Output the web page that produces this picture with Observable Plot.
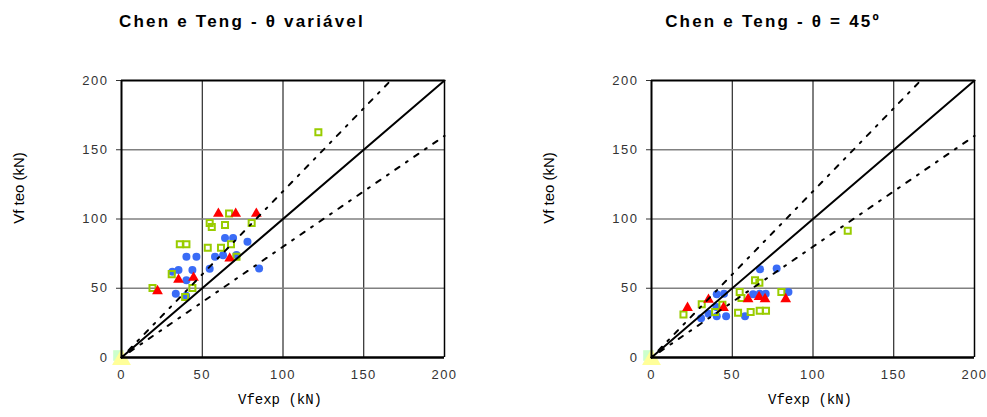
<!DOCTYPE html>
<html>
<head>
<meta charset="utf-8">
<script src="https://cdn.jsdelivr.net/npm/d3@7"></script>
<script src="https://cdn.jsdelivr.net/npm/@observablehq/plot@0.6"></script>
<style>
  html, body { margin: 0; padding: 0; background: #fff; }
  #root { position: relative; width: 987px; height: 417px; overflow: hidden; font-family: "Liberation Sans", Arial, sans-serif; }
  .panel { position: absolute; top: 0; }
  .panel svg text { letter-spacing: 1.5px; }
  .title { position: absolute; top: 12px; font-weight: bold; font-size: 17px; letter-spacing: 2.2px; white-space: nowrap; transform: translateX(-50%); color: #000; }
  .ylab { position: absolute; font-size: 15px; white-space: nowrap; transform: translate(-50%, -50%) rotate(-90deg); color: #000; }
  .xlab { position: absolute; top: 392px; font-family: "Liberation Mono", "Courier New", monospace; font-size: 14px; white-space: nowrap; transform: translateX(-50%); color: #000; }
</style>
</head>
<body>
<div id="root"></div>
<script>
// ---- data ----
const titles = ["Chen e Teng - θ variável", "Chen e Teng - θ = 45º"];
const xLabel = "Vfexp (kN)";
const yLabel = "Vf teo (kN)";
const tickValues = [0, 50, 100, 150, 200];

// left panel (θ variável)
const blue1X = [31.5, 35.3, 43.9, 40.2, 46.4, 40.2, 33.6, 40.0, 54.6, 57.9, 62.9, 64.1, 69.1, 71.2, 78.0, 85.2];
const blue1Y = [61.9, 63.1, 63.1, 72.8, 72.8, 55.8, 46.1, 44.5, 64.0, 72.8, 73.8, 86.2, 86.2, 74.0, 83.5, 64.3];
const red1X = [22.3, 35.3, 44.6, 60.0, 70.7, 83.5, 67.0];
const red1Y = [48.0, 56.2, 57.6, 103.9, 103.9, 103.9, 71.5];
const green1X = [19.2, 31.1, 36.1, 40.2, 43.9, 39.4, 54.6, 55.9, 64.1, 53.4, 61.6, 66.6, 67.8, 71.2, 80.6, 121.9];
const green1Y = [50.2, 60.2, 81.8, 81.8, 50.2, 43.7, 97.1, 94.2, 95.6, 79.3, 79.3, 103.9, 81.8, 72.8, 97.1, 162.6];

// right panel (θ = 45º)
const blue2X = [67.2, 77.5, 40.4, 44.9, 62.9, 67.0, 70.7, 84.8, 30.7, 40.4, 46.2, 57.9, 35.3, 40.2];
const blue2Y = [63.8, 64.3, 45.6, 46.1, 45.6, 46.1, 46.1, 47.3, 28.4, 29.8, 29.8, 29.8, 31.6, 36.4];
const red2X = [22.3, 35.3, 44.6, 59.8, 66.6, 70.3, 83.1];
const red2Y = [35.9, 41.8, 35.9, 42.2, 43.7, 42.2, 42.2];
const green2X = [19.8, 31.1, 39.4, 43.9, 54.6, 55.7, 64.1, 66.8, 80.4, 53.6, 61.4, 67.0, 70.9, 121.5];
const green2Y = [31.1, 38.4, 32.8, 38.1, 47.3, 43.0, 55.8, 53.9, 47.3, 32.3, 32.8, 33.8, 33.8, 91.5];

// reference lines: y = x, y = 1.2x, y = 0.8x
const eqX = [0, 200], eqY = [0, 200];
const upX = [0, 166.7], upY = [0, 200];
const loX = [0, 200], loY = [0, 160];
const originX = [0], originY = [0];

const zip = (xs, ys) => xs.map((x, i) => ({x, y: ys[i]}));

function panel(bX, bY, rX, rY, gX, gY, width) {
  return Plot.plot({
    width, height: 417,
    marginLeft: 121, marginRight: width - 121 - 323, marginTop: 80, marginBottom: 60,
    style: {fontFamily: "'Liberation Sans', Arial, sans-serif", fontSize: "13px", color: "#333", background: "transparent"},
    x: {domain: [0, 200]},
    y: {domain: [0, 200]},
    marks: [
      Plot.gridX([50, 100, 150], {stroke: "#000", strokeOpacity: 1, strokeWidth: 1}),
      Plot.gridY([50, 100, 150], {stroke: "#808080", strokeOpacity: 1, strokeWidth: 1.5}),
      Plot.ruleX([200], {stroke: "#000", strokeWidth: 1.5}),
      Plot.ruleY([200], {stroke: "#000", strokeWidth: 2}),
      Plot.axisY({ticks: tickValues, tickSize: 5, tickPadding: 8, label: null, fill: "#333", fontSize: 13}),
      Plot.axisX({ticks: tickValues, tickSize: 0, tickPadding: 12, label: null, fill: "#333", fontSize: 13}),
      Plot.dot(zip(originX, originY), {x: "x", y: "y", symbol: "square", r: 6, fill: "#ccffcc", dx: -3, dy: -2}),
      Plot.dot(zip(originX, originY), {x: "x", y: "y", symbol: "triangle", r: 7, fill: "#ffff99", dy: 2}),
      Plot.dot(zip(bX, bY), {x: "x", y: "y", r: 4, fill: "#3a6cf6"}),
      Plot.dot(zip(gX, gY), {x: "x", y: "y", symbol: "square", r: 3.4, stroke: "#99cc00", strokeWidth: 2, fill: "none"}),
      Plot.dot(zip(rX, rY), {x: "x", y: "y", symbol: "triangle", r: 4, fill: "#ff0000"}),
      Plot.line(zip(upX, upY), {x: "x", y: "y", stroke: "#000", strokeWidth: 2, strokeDasharray: "2,8,5,8"}),
      Plot.line(zip(loX, loY), {x: "x", y: "y", stroke: "#000", strokeWidth: 2, strokeDasharray: "2,8,5,8"}),
      Plot.line(zip(eqX, eqY), {x: "x", y: "y", stroke: "#000", strokeWidth: 2}),
      Plot.ruleX([0], {stroke: "#000", strokeWidth: 2}),
      Plot.ruleY([0], {stroke: "#000", strokeWidth: 2.5})
    ]
  });
}

const root = document.getElementById("root");
const configs = [
  {left: 0, width: 460, data: [blue1X, blue1Y, red1X, red1Y, green1X, green1Y]},
  {left: 530, width: 457, data: [blue2X, blue2Y, red2X, red2Y, green2X, green2Y]}
];
configs.forEach((c, i) => {
  const div = document.createElement("div");
  div.className = "panel";
  div.style.left = c.left + "px";
  div.appendChild(panel(...c.data, c.width));
  root.appendChild(div);

  const t = document.createElement("div");
  t.className = "title";
  t.textContent = titles[i];
  t.style.left = (c.left + 242 + (i === 1 ? 1 : 0)) + "px";
  root.appendChild(t);

  const yl = document.createElement("div");
  yl.className = "ylab";
  yl.textContent = yLabel;
  yl.style.left = (c.left + 18) + "px";
  yl.style.top = "188px";
  root.appendChild(yl);

  const xl = document.createElement("div");
  xl.className = "xlab";
  xl.textContent = xLabel;
  xl.style.left = (c.left + 280) + "px";
  root.appendChild(xl);
});
</script>
</body>
</html>
